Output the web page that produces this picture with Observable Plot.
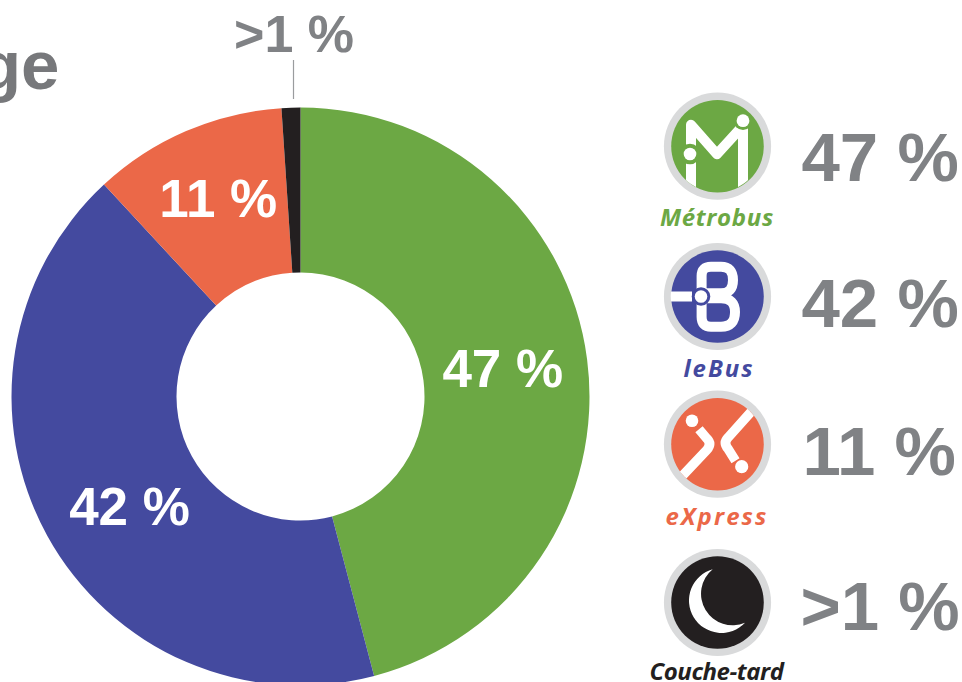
<!DOCTYPE html>
<html>
<head>
<meta charset="utf-8">
<script src="https://cdn.jsdelivr.net/npm/d3@7"></script>
<script src="https://cdn.jsdelivr.net/npm/@observablehq/plot@0.6"></script>
<style>
html,body{margin:0;padding:0;background:#fff;overflow:hidden}
svg{display:block}
</style>
</head>
<body>
<div id="chart"></div>
<script>
// Data
const names = ["Métrobus", "leBus", "eXpress", "Couche-tard"];
const shares = [45.9, 42.2, 10.85, 1.05];
const labels = ["47 %", "42 %", "11 %", ">1 %"];
const colors = ["#6ca844", "#444a9f", "#eb6848", "#231f20"];

// Layout of the page (pixels)
const W = 962, H = 682;
const center = {x: 300.5, y: 396.5}, outerR = 289, innerR = 124;
const sans = "'Liberation Sans', Arial, sans-serif";
const logoFont = "'Open Sans', sans-serif";
const grey = "#808285";
const iconX = 717, iconY = [145.7, 296, 443.7, 602];
const nameX = [716.5, 718.5, 716.5, 716], nameY = [225.7, 376.7, 524, 679];
const nameSpacing = [0.7, 2, 2.1, -0.45];
const valueX = [801, 801, 802, 800], valueY = [180.5, 326.5, 474.5, 629.5];
// offset of the slice labels from the slice centroid
const labelOffset = [[-3, -2], [9.5, 10], [-1, -9], null];

const rows = names.map((name, i) => ({
  name, share: shares[i], label: labels[i],
  iconX, iconY: iconY[i], nameX: nameX[i], nameY: nameY[i], valueX: valueX[i], valueY: valueY[i]
}));

const pie = d3.pie().sort(null).value(d => d.share)(rows);
const arc = d3.arc().innerRadius(innerR).outerRadius(outerR);
const sliceLabels = pie.filter((d, i) => labelOffset[i]).map((d) => {
  const i = d.index, [cx, cy] = arc.centroid(d);
  return {label: d.data.label, x: center.x + cx + labelOffset[i][0], y: center.y + cy + labelOffset[i][1] + 19};
});

// White logo drawings, relative to the icon centre: dots are [x, y, r, halo]
const logos = [
  {strokes: ["M-26 5 V-21 L0 8.5 L26 -20 V46", "M-26 10 V46"], width: 10,
   dots: [[-27, 8.3, 6.3, 4], [26, -25, 6.4, 3]]},
  {strokes: ["M-15.4 -6 V-20 Q-15.4 -29.3 -6 -29.3 H4 Q16 -29.3 16 -16 Q16 -2.7 4 -2.7 H-15 M-15 2.3 H4 Q18 2.3 18 16 Q18 30.7 4 30.7 H-6 Q-15.4 30.7 -15.4 21 V6", "M-50 0.4 H-25"], width: 10,
   dots: [[-16, 0.5, 6.3, 3]]},
  {strokes: ["M-44 42 L-10 6 Q-5 0 -10 -5 L-18 -14.5", "M44 -43 L11 -6 Q6 -1 11 5 L18.5 17"], width: 9.5,
   dots: [[-25, -23, 6.3, 0], [24.7, 23, 6.6, 0]]},
  {moon: "M-4.3 -32.7 A32.4 32.4 0 1 0 28 20.7 A31.5 31.5 0 0 1 -4.3 -32.7Z"}
];

function donut(index, scales) {
  const g = d3.create("svg:g").attr("transform", `translate(${center.x},${center.y})`);
  g.selectAll("path").data(pie).join("path")
    .attr("d", arc)
    .attr("fill", d => scales.color(d.data.name));
  return g.node();
}

function logoMark(index, scales) {
  const root = d3.create("svg:g");
  const defs = root.append("defs");
  rows.forEach((row, i) => {
    const logo = logos[i], id = `disk-${i}`;
    defs.append("clipPath").attr("id", id).append("circle").attr("r", 46.3);
    const g = root.append("g").attr("transform", `translate(${row.iconX},${row.iconY})`)
      .attr("clip-path", `url(#${id})`);
    if (logo.moon) g.append("path").attr("d", logo.moon).attr("fill", "#fff");
    (logo.strokes || []).forEach(d => g.append("path").attr("d", d).attr("fill", "none")
      .attr("stroke", "#fff").attr("stroke-width", logo.width).attr("stroke-linejoin", "round"));
    (logo.dots || []).forEach(([x, y, r, halo]) => {
      if (halo) g.append("circle").attr("cx", x).attr("cy", y).attr("r", r + halo).attr("fill", scales.color(row.name));
      g.append("circle").attr("cx", x).attr("cy", y).attr("r", r).attr("fill", "#fff");
    });
  });
  return root.node();
}

const plot = Plot.plot({
  width: W, height: H,
  margin: 0,
  style: {background: "#fff", fontFamily: sans},
  x: {type: "identity", axis: null},
  y: {type: "identity", axis: null},
  color: {domain: names, range: colors},
  marks: [
    donut,
    Plot.text(["ge"], {x: () => 59, y: () => 88, text: d => d, textAnchor: "end", lineAnchor: "bottom",
      fontSize: 69, fontWeight: 700, fontFamily: sans, fill: "#77787b"}),
    Plot.ruleX([293], {x: d => d, y1: 60, y2: 99, stroke: "#9a9c9e", strokeWidth: 1.2}),
    Plot.text([labels[3]], {x: () => 293.5, y: () => 51.5, text: d => d, textAnchor: "middle", lineAnchor: "bottom",
      fontSize: 52, fontWeight: 700, fontFamily: sans, fill: grey}),
    Plot.text(sliceLabels, {x: "x", y: "y", text: "label", textAnchor: "middle", lineAnchor: "bottom",
      fontSize: 53, fontWeight: 700, fontFamily: sans, fill: "#fff"}),
    Plot.dot(rows, {x: "iconX", y: "iconY", r: 53.6, fill: "#d9dadb", stroke: "none"}),
    Plot.dot(rows, {x: "iconX", y: "iconY", r: 46.3, fill: "name", stroke: "none"}),
    logoMark,
    Plot.text(rows, {x: "nameX", y: "nameY", text: "name", fill: "name", textAnchor: "middle", lineAnchor: "bottom",
      fontSize: 24, fontWeight: 700, fontStyle: "italic", fontFamily: logoFont, className: "logo-name"}),
    Plot.text(rows, {x: "valueX", y: "valueY", text: "label", textAnchor: "start", lineAnchor: "bottom",
      fontSize: 69, fontWeight: 700, fontFamily: sans, fill: grey})
  ]
});
d3.select(plot).selectAll(".logo-name text").attr("letter-spacing", (d, i) => nameSpacing[i]);
document.getElementById("chart").append(plot);
</script>
</body>
</html>
